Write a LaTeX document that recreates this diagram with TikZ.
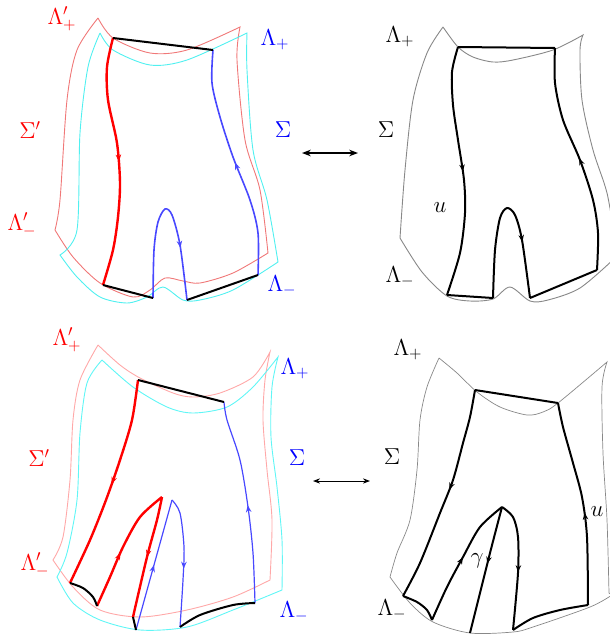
\documentclass[tikz,border=0pt]{standalone}
\usepackage{tikz}
\usetikzlibrary{arrows.meta,decorations.markings}
\definecolor{sigred}{HTML}{F07878}
\definecolor{sigcyan}{HTML}{50F0F0}
\definecolor{sigredlt}{HTML}{FFA8A8}
\definecolor{sigcyanlt}{HTML}{60F6F6}
\definecolor{ublue}{HTML}{4848FF}
\definecolor{sheetgray}{HTML}{888888}

\begin{document}
\begin{tikzpicture}[
  x=1pt, y=-1pt,
  >=Stealth,
  lab/.style={font=\Large, scale=1.6, inner sep=0pt},
  sigprime/.style={draw=sigred, line width=0.9pt},
  sigma/.style={draw=sigcyan, line width=0.9pt},
  sheet/.style={draw=sheetgray, line width=0.9pt},
  chord/.style={draw=black, line width=2pt},
  redpath/.style={draw=red, line width=2.4pt},
  bluepath/.style={draw=ublue, line width=1.6pt},
  blackpath/.style={draw=black, line width=2pt},
  flow/.style={postaction={decorate}, decoration={markings,
    mark=at position #1 with {\arrow{Stealth[length=7pt,width=5.5pt]}}}}
]
\useasboundingbox (0,0) rectangle (610,638);
\begin{scope}
\clip (0,0) rectangle (610,638);

% top left: Sigma' and Sigma
\draw[sigprime] plot[smooth] coordinates {(98,18) (113,38) (150,53) (187,50) (240,27)}
  -- plot[smooth] coordinates {(240,27) (237,60) (245,140) (260,190) (268,253)}
  -- plot[smooth] coordinates {(268,253) (233,273) (200,283) (183,281) (165,278) (150,290) (133,297) (100,283) (73,257) (55,230)}
  -- plot[smooth] coordinates {(55,230) (60,200) (67,100) (77,50) (98,18)};
\draw[sigma] plot[smooth] coordinates {(100,33) (113,50) (150,65) (187,60) (247,33)}
  -- plot[smooth] coordinates {(247,33) (247,70) (253,150) (267,200) (278,262)}
  -- plot[smooth] coordinates {(278,262) (233,290) (200,300) (183,300) (163,287) (147,297) (127,303) (100,297) (77,277) (60,255)}
  -- plot[smooth] coordinates {(60,255) (77,230) (80,133) (88,67) (100,33)};

\coordinate (a1) at (113,38);
\coordinate (a2) at (213,50);
\coordinate (a3) at (258,275);
\coordinate (a4) at (187,300);
\coordinate (a5) at (153,298);
\coordinate (a6) at (103,285);

\draw[redpath, flow=0.5] plot[smooth] coordinates {(a1) (107,67) (108,100) (117,143) (120,183) (118,217) (113,250) (a6)};
\draw[bluepath, flow=0.5] plot[smooth] coordinates {(a3) (258,233) (250,200) (233,157) (220,117) (212,83) (a2)};
\draw[bluepath, flow=0.72] plot[smooth] coordinates {(a5) (154,250) (158,222) (165,209) (172,215) (180,245) (a4)};
\draw[chord] (a1) -- (a2);
\draw[chord] (a6) -- (a5);
\draw[chord] (a4) -- (a3);

\node[lab, text=red] (lpp1) at (62,19) {$\Lambda'_+$};
\node[lab, text=blue] (lp1) at (275,40) {$\Lambda_+$};
\node[lab, text=red] (sp1) at (30,130) {$\Sigma'$};
\node[lab, text=blue] (s1) at (283,130) {$\Sigma$};
\node[lab, text=red] (lpm1) at (22,225) {$\Lambda'_-$};
\node[lab, text=blue] (lm1) at (282,286) {$\Lambda_-$};

% top right
\draw[sheet] plot[smooth] coordinates {(443,27) (458,47) (473,57) (493,62) (513,60) (553,50) (583,35)}
  -- plot[smooth] coordinates {(583,35) (580,50) (582,100) (593,150) (607,193) (615,240)}
  -- plot[smooth] coordinates {(615,258) (580,288) (548,300) (530,301) (510,287) (493,299) (470,301) (447,296) (422,272) (400,238)}
  -- plot[smooth] coordinates {(400,238) (405,170) (413,100) (427,53) (443,27)};

\coordinate (b1) at (458,47);
\coordinate (b2) at (555,48);
\coordinate (b3) at (597,270);
\coordinate (b4) at (530,298);
\coordinate (b5) at (493,298);
\coordinate (b6) at (447,295);

\draw[blackpath, flow=0.5] plot[smooth] coordinates {(b1) (452,72) (453,105) (458,140) (464,180) (465,213) (460,253) (b6)};
\draw[blackpath, flow=0.5] plot[smooth] coordinates {(b3) (598,233) (593,200) (580,160) (563,120) (555,83) (b2)};
\draw[blackpath, flow=0.7] plot[smooth] coordinates {(b5) (495,250) (500,218) (507,208) (515,215) (522,240) (b4)};
\draw[chord] (b1) -- (b2);
\draw[chord] (b6) -- (b5);
\draw[chord] (b4) -- (b3);

\node[lab] (lp2) at (400,37) {$\Lambda_+$};
\node[lab] (s2) at (386,130) {$\Sigma$};
\node[lab] (u2) at (440,208) {$u$};
\node[lab] (lm2) at (400,277) {$\Lambda_-$};

\coordinate (t1) at (302,153);
\coordinate (t2) at (358,153);
\draw[<->, line width=1.3pt] (t1) -- (t2);

% bottom left
\draw[sigprime, draw=sigredlt] plot[smooth] coordinates {(98,345) (120,365) (140,378) (173,393) (193,397) (220,393) (253,377) (270,352)}
  -- plot[smooth] coordinates {(270,352) (265,380) (263,420) (267,470) (272,520) (270,580)}
  -- plot[smooth] coordinates {(270,580) (233,597) (187,610) (140,617) (100,610) (73,587) (53,560)}
  -- plot[smooth] coordinates {(53,560) (63,537) (70,480) (73,420) (80,380) (98,345)};
\draw[sigma, draw=sigcyanlt] plot[smooth] coordinates {(102,360) (133,387) (167,407) (193,413) (227,407) (253,387) (278,357)}
  -- plot[smooth] coordinates {(278,357) (272,387) (271,437) (277,487) (282,540) (282,590)}
  -- plot[smooth] coordinates {(282,590) (233,610) (187,627) (140,630) (100,620) (73,603) (57,577)}
  -- plot[smooth] coordinates {(57,577) (67,553) (77,500) (80,433) (87,383) (102,360)};

\coordinate (c1) at (138,380);
\coordinate (c2) at (224,402);
\coordinate (c3) at (255,603);
\coordinate (c4) at (180,627);
\coordinate (c5) at (172,500);
\coordinate (c6) at (136,630);
\coordinate (c7) at (133,617);
\coordinate (c8) at (162,497);
\coordinate (c9) at (97,606);
\coordinate (c10) at (70,583);

\draw[redpath, flow=0.5] plot[smooth] coordinates {(c1) (132,420) (120,460) (106,500) (90,540) (c10)};
\draw[redpath, flow=0.45] plot[smooth] coordinates {(c9) (110,577) (123,547) (140,517) (c8)};
\draw[redpath, flow=0.5] plot[smooth] coordinates {(c8) (157,520) (147,557) (c7)};
\draw[bluepath, line width=1.2pt, flow=0.5] (c6) -- (c5);
\draw[bluepath, line width=1.2pt, flow=0.55] plot[smooth] coordinates {(c5) (180,513) (184,547) (183,580) (c4)};
\draw[bluepath, line width=1.2pt, flow=0.48] plot[smooth] coordinates {(c3) (253,553) (248,507) (240,460) (227,420) (c2)};
\draw[chord] (c1) -- (c2);
\draw[chord] plot[smooth] coordinates {(c10) (83,588) (93,597) (c9)};
\draw[chord] (c7) -- (c6);
\draw[chord] plot[smooth] coordinates {(c4) (200,615) (233,605) (c3)};

\node[lab, text=red] (lpp3) at (67,340) {$\Lambda'_+$};
\node[lab, text=blue] (lp3) at (295,369) {$\Lambda_+$};
\node[lab, text=red] (sp3) at (39,458) {$\Sigma'$};
\node[lab, text=blue] (s3) at (297,458) {$\Sigma$};
\node[lab, text=red] (lpm3) at (35,565) {$\Lambda'_-$};
\node[lab, text=blue] (lm3) at (294,612) {$\Lambda_-$};

% bottom right
\draw[sheet, line width=0.7pt] plot[smooth] coordinates {(439,358) (457,373) (477,392) (500,407) (527,415) (543,412) (558,403) (607,362)}
  -- plot[smooth] coordinates {(607,362) (602,387) (603,453) (607,520) (609,593)}
  -- plot[smooth] coordinates {(612,595) (590,607) (533,627) (513,632) (470,633) (433,622) (410,603) (390,577)}
  -- plot[smooth] coordinates {(390,577) (397,553) (410,520) (417,470) (420,420) (427,387) (439,358)};

\coordinate (d1) at (475,390);
\coordinate (d2) at (558,403);
\coordinate (d3) at (588,605);
\coordinate (d4) at (513,630);
\coordinate (d5) at (502,507);
\coordinate (d6) at (470,633);
\coordinate (d7) at (432,620);
\coordinate (d8) at (403,596);

\draw[blackpath, flow=0.47] plot[smooth] coordinates {(d1) (470,417) (463,443) (453,480) (440,513) (420,563) (d8)};
\draw[chord] plot[smooth] coordinates {(d8) (417,602) (427,610) (d7)};
\draw[blackpath, flow=0.52] plot[smooth] coordinates {(d7) (447,587) (463,557) (480,527) (d5)};
\draw[blackpath, flow=0.45] plot[smooth] coordinates {(d5) (490,553) (d6)};
\draw[blackpath, flow=0.55] plot[smooth] coordinates {(d5) (513,517) (518,537) (518,573) (d4)};
\draw[chord] plot[smooth] coordinates {(d4) (533,618) (560,610) (d3)};
\draw[blackpath, flow=0.45] plot[smooth] coordinates {(d3) (587,537) (582,497) (573,463) (563,427) (d2)};
\draw[chord] (d1) -- (d2);

\node[lab] (lp4) at (408,350) {$\Lambda_+$};
\node[lab] (s4) at (392,457) {$\Sigma$};
\node[lab] (g4) at (477,561) {$\gamma$};
\node[lab] (u4) at (597,512) {$u$};
\node[lab] (lm4) at (392,610) {$\Lambda_-$};

\coordinate (m1) at (313,481);
\coordinate (m2) at (370,481);
\draw[<->, line width=0.9pt] (m1) -- (m2);
\end{scope}
\end{tikzpicture}
\end{document}
